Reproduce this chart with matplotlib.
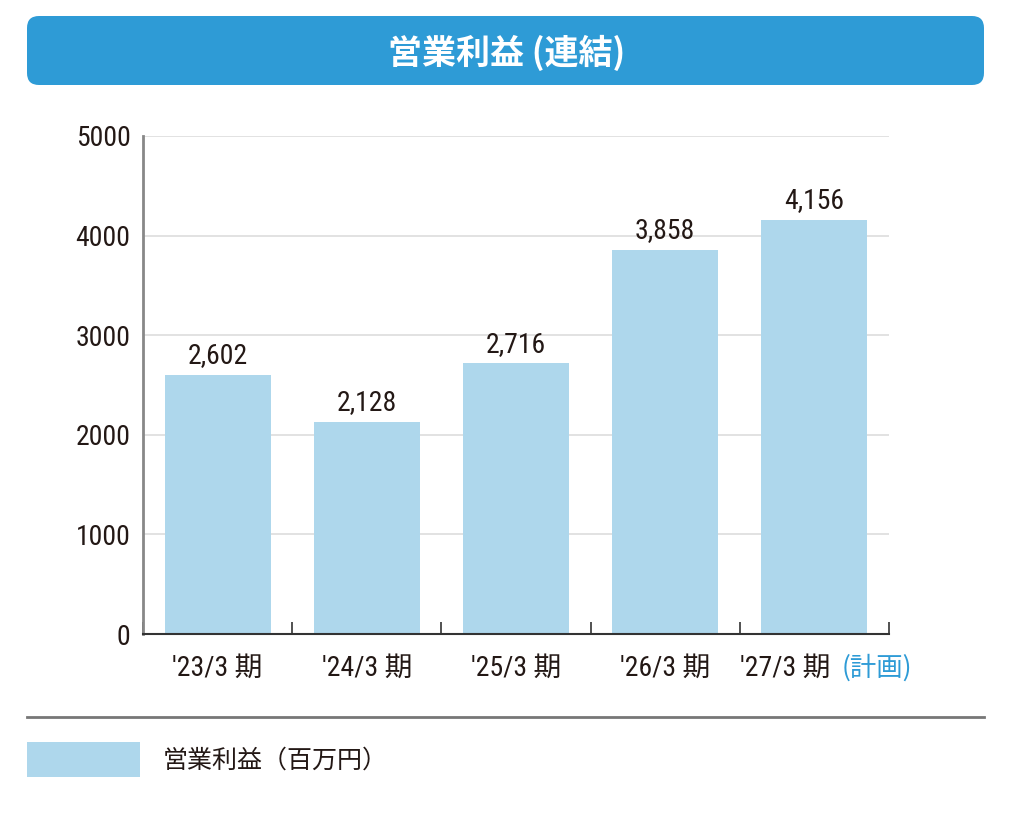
import matplotlib.pyplot as plt
from matplotlib.patches import FancyBboxPatch, Rectangle

# データ
periods = ["'23/3 期", "'24/3 期", "'25/3 期", "'26/3 期", "'27/3 期"]
op_profit = [2602, 2128, 2716, 3858, 4156]
value_labels = ["2,602", "2,128", "2,716", "3,858", "4,156"]
plan_note = "(計画)"
title = "営業利益 (連結)"
legend_label = "営業利益（百万円）"

bar_color = "#AED7EC"
blue = "#2E9BD6"
ink = "#231815"
num_font = ["Roboto Condensed", "Noto Sans CJK JP", "DejaVu Sans"]
jp_font = ["Noto Sans CJK JP", "DejaVu Sans"]

fig = plt.figure(figsize=(10.25, 8.21), dpi=100)

# 背景用の軸（ピクセル座標）
bg = fig.add_axes([0, 0, 1, 1], zorder=0)
bg.set_xlim(0, 1025)
bg.set_ylim(821, 0)
bg.axis("off")
bg.add_patch(FancyBboxPatch((27, 16), 957, 69, boxstyle="round,pad=0,rounding_size=12",
                            fc=blue, ec="none"))
bg.text(507, 53, title, color="white", fontsize=24.5, fontweight="bold",
        family=jp_font, ha="center", va="center")
bg.plot([27, 984], [717, 717], color="#777777", lw=2)
bg.add_patch(Rectangle((27, 742), 113, 35, fc=bar_color, ec="none"))
bg.text(163, 761, legend_label, color=ink, fontsize=18, family=jp_font,
        ha="left", va="center")

# グラフ本体
ax = fig.add_axes([143 / 1025, 1 - 634 / 821, 746 / 1025, 498 / 821], zorder=1)
ax.patch.set_alpha(0)
x = list(range(len(periods)))
ax.bar(x, op_profit, width=0.71, color=bar_color, zorder=2)
for xi, v, lab in zip(x, op_profit, value_labels):
    ax.annotate(lab, (xi, v), xytext=(0, 4), textcoords="offset points",
                ha="center", va="bottom", fontsize=20, color=ink, family=num_font)

ax.set_xlim(-0.5, len(periods) - 0.5)
ax.set_ylim(0, 5000)
ax.set_yticks([0, 1000, 2000, 3000, 4000, 5000])
ax.set_yticklabels(["0", "1000", "2000", "3000", "4000", "5000"],
                   family=num_font, fontsize=20, color=ink)
ax.tick_params(axis="y", length=0, pad=9)
ax.set_xticks([i - 0.5 for i in range(len(periods) + 1)])
ax.set_xticklabels([])
ax.tick_params(axis="x", direction="in", length=9, width=1.2, color="#333333")
ax.grid(axis="y", color="#DDDDDD", lw=1.2, zorder=0)
for s in ["top", "right"]:
    ax.spines[s].set_visible(False)
ax.spines["left"].set_color("#888888")
ax.spines["left"].set_linewidth(2)
ax.spines["bottom"].set_color("#333333")
ax.spines["bottom"].set_linewidth(1.5)

# 期のラベル
for xi, p in zip(x[:-1], periods[:-1]):
    ax.text(xi, -0.068, p, transform=ax.get_xaxis_transform(), ha="center",
            va="center", fontsize=20, color=ink, family=num_font)
last = ax.text(x[-1] + 0.11, -0.068, periods[-1], transform=ax.get_xaxis_transform(),
               ha="right", va="center", fontsize=20, color=ink, family=num_font)
ax.annotate(plan_note, xy=(1, 0.5), xycoords=last, xytext=(8, 0),
            textcoords="offset points", ha="left", va="center",
            fontsize=19, color=blue, family=jp_font, annotation_clip=False)

fig.savefig("out.png", dpi=100)
